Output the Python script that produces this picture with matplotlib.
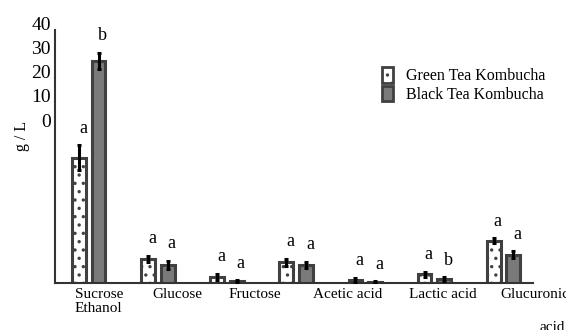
import matplotlib
matplotlib.use("Agg")
import matplotlib.pyplot as plt
import numpy as np
from matplotlib.patches import Patch

plt.rcParams['font.family'] = ['Liberation Serif', 'DejaVu Serif']
plt.rcParams['hatch.color'] = 'black'
plt.rcParams['hatch.linewidth'] = 1.2

# ---- data ----
groups = ["Sucrose", "Ethanol", "Glucose", "Fructose", "Acetic acid", "Lactic acid", "Glucuronic acid"]
green_vals = [19.8, 3.8, 0.95, 3.3, 0.5, 1.4, 6.7]
green_err = [2.0, 0.5, 0.5, 0.55, 0.35, 0.4, 0.4]
black_vals = [35.1, 2.85, 0.35, 2.85, 0.15, 0.65, 4.45]
black_err = [1.3, 0.7, 0.15, 0.5, 0.1, 0.3, 0.55]
green_letters = ["a", "a", "a", "a", "a", "a", "a"]
black_letters = ["b", "a", "a", "a", "a", "b", "a"]
ytick_labels = ["40", "30", "20", "10", "0"]
x_labels = ["Sucrose\nEthanol", "Glucose", "Fructose", "Acetic acid", "Lactic acid", "Glucuronic"]
series_names = ["Green Tea Kombucha", "Black Tea Kombucha"]

W, H = 566, 330
fig = plt.figure(figsize=(W / 100, H / 100), dpi=100)
ax = fig.add_axes([55 / W, 1 - 283 / H, (533 - 55) / W, (283 - 30) / H])

x = np.arange(len(groups))
bw = 0.2
off = 0.14
edge = '#404040'
ax.bar(x - off, green_vals, bw, color='white', edgecolor=edge, linewidth=2.2, hatch='..', zorder=2)
ax.bar(x + off, black_vals, bw, color='#7a7a7a', edgecolor=edge, linewidth=2.2, zorder=2)
ax.errorbar(x - off, green_vals, yerr=green_err, fmt='none', ecolor='black', elinewidth=2.2,
            capsize=1.2, capthick=2.2, zorder=3)
ax.errorbar(x + off, black_vals, yerr=black_err, fmt='none', ecolor='black', elinewidth=2.2,
            capsize=1.2, capthick=2.2, zorder=3)

for xi, v, e, t in zip(x - off, green_vals, green_err, green_letters):
    ax.annotate(t, (xi, v + e), xytext=(3, 6), textcoords='offset points',
                ha='center', va='bottom', fontsize=13)
for xi, v, e, t in zip(x + off, black_vals, black_err, black_letters):
    ax.annotate(t, (xi, v + e), xytext=(3, 6), textcoords='offset points',
                ha='center', va='bottom', fontsize=13)

ax.set_xlim(-0.49, 6.43)
ax.set_ylim(0, 40)
ax.set_xticks([])
ax.set_yticks([])
for s in ['top', 'right']:
    ax.spines[s].set_visible(False)
for s in ['left', 'bottom']:
    ax.spines[s].set_color('#333333')
    ax.spines[s].set_linewidth(1.5)

# y labels (misplaced as in the reference)
for i, t in enumerate(ytick_labels):
    fig.text(51 / W, 1 - (25 + 24.3 * i) / H, t, ha='right', va='center', fontsize=14)
fig.text(22 / W, 1 - 136 / H, "g / L", rotation=90, ha='center', va='center', fontsize=11.5)

# category labels
label_left_px = [75, 152, 229, 313, 409, 500]
for px, t in zip(label_left_px, x_labels):
    fig.text(px / W, 1 - 288 / H, t, ha='left', va='top', fontsize=11, linespacing=1.1)
fig.text(540 / W, 1 - 321 / H, "acid", ha='left', va='top', fontsize=11)

handles = [Patch(facecolor='white', edgecolor=edge, hatch='..', linewidth=2.0),
           Patch(facecolor='#7a7a7a', edgecolor=edge, linewidth=2.0)]
fig.legend(handles, series_names, loc='upper left', bbox_to_anchor=(371 / W, 1 - 56 / H),
           frameon=False, fontsize=11.5, handlelength=0.7, handleheight=1.1,
           handletextpad=0.8, labelspacing=0.1, borderpad=0.2)

fig.savefig("out.png", dpi=100)
